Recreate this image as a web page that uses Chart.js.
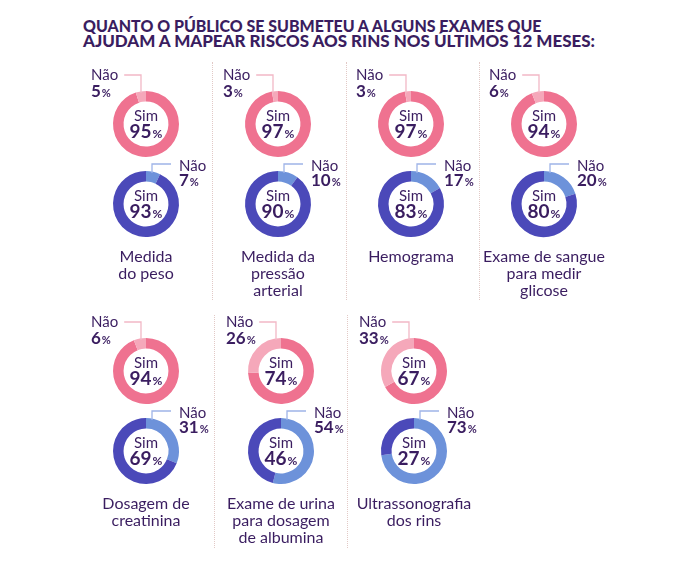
<!DOCTYPE html>
<html>
<head>
<meta charset="utf-8">
<script src="https://cdn.jsdelivr.net/npm/chart.js@4"></script>
<style>
  body { margin: 0; background: #fff; }
  #page { position: relative; width: 680px; height: 567px; overflow: hidden; background: #fff; }
  #title { position: absolute; left: 83px; top: 19px; color: #3a1d60;
           font: 900 16px Lato, sans-serif; line-height: 14.5px; white-space: nowrap; }
  #title span { display: block; transform-origin: 0 0; }
  .sep { position: absolute; width: 0; border-left: 1px dotted #e2c9c6; }
  .cell { position: absolute; width: 180px; height: 220px; }
</style>
</head>
<body>
<div id="page">
  <div id="title">
    <span>QUANTO O PÚBLICO SE SUBMETEU A ALGUNS EXAMES QUE</span>
    <span>AJUDAM A MAPEAR RISCOS AOS RINS NOS ÚLTIMOS 12 MESES:</span>
  </div>
</div>
<script>
// exames (categorias)
const exames = [
  'Medida\ndo peso',
  'Medida da\npressão\narterial',
  'Hemograma',
  'Exame de sangue\npara medir\nglicose',
  'Dosagem de\ncreatinina',
  'Exame de urina\npara dosagem\nde albumina',
  'Ultrassonografia\ndos rins'
];
// anel rosa (superior)
const simRosa = [95, 97, 97, 94, 94, 74, 67];
const naoRosa = [5, 3, 3, 6, 6, 26, 33];
// anel azul (inferior)
const simAzul = [93, 90, 83, 80, 69, 46, 27];
const naoAzul = [7, 10, 17, 20, 31, 54, 73];

const TXT = '#3a1d60';
const ROSA = '#ef7290', ROSA_CLARO = '#f5a8ba', ROSA_LINHA = '#f2b8c6';
const AZUL = '#4b49b9', AZUL_CLARO = '#6d92da', AZUL_LINHA = '#9fb4e8';

// grid of the cells
const colsRow1 = [146, 278, 411, 544];
const colsRow2 = [146, 281, 414];
const rowY = [124, 371];
const ringGap = 80;

const page = document.getElementById('page');

// fit title lines
document.querySelectorAll('#title span').forEach((s, i) => {
  const target = [482, 512][i];
  s.style.transform = 'scaleX(' + (target / s.getBoundingClientRect().width) + ')';
});

// dotted separators
[[212, 62, 238], [346, 62, 238], [479, 62, 238], [214, 315, 233], [347, 315, 233]].forEach(([x, y, h]) => {
  const d = document.createElement('div');
  d.className = 'sep';
  d.style.left = x + 'px'; d.style.top = y + 'px'; d.style.height = h + 'px';
  page.appendChild(d);
});

function pct(ctx, num, x, y, big, small, align) {
  ctx.font = '700 ' + big + 'px Lato';
  const w1 = ctx.measureText(num).width;
  ctx.font = '700 ' + small + 'px Lato';
  const w2 = ctx.measureText('%').width;
  const x0 = align === 'center' ? x - (w1 + w2 + 1) / 2 : x;
  ctx.textAlign = 'left';
  ctx.font = '700 ' + big + 'px Lato';
  ctx.fillText(num, x0, y);
  ctx.font = '700 ' + small + 'px Lato';
  ctx.fillText('%', x0 + w1 + 1, y);
}

const labels = {
  id: 'labels',
  afterDraw(chart) {
    const o = chart.options.plugins.labels;
    const arc = chart.getDatasetMeta(0).data[0];
    const x = arc.x, y = arc.y, r = arc.outerRadius;
    const ctx = chart.ctx;
    ctx.save();
    ctx.fillStyle = TXT;
    ctx.textBaseline = 'alphabetic';
    // center
    ctx.textAlign = 'center';
    ctx.font = '400 15px Lato';
    ctx.fillText('Sim', x, y - 3);
    pct(ctx, String(o.sim), x, y + 14, 19, 12, 'center');
    // Não label + leader
    ctx.strokeStyle = o.line;
    ctx.lineWidth = 1.3;
    ctx.beginPath();
    if (o.side === 'left') {
      const lx = x - 55;
      ctx.textAlign = 'left';
      ctx.font = '400 15px Lato';
      ctx.fillText('Não', lx, y - 44);
      const nw = ctx.measureText('Não').width;
      pct(ctx, String(o.nao), lx, y - 27, 17, 11, 'left');
      ctx.moveTo(x - 5, y - r + 2);
      ctx.lineTo(x - 5, y - 49);
      ctx.lineTo(lx + nw + 6, y - 49);
    } else {
      const lx = x + 33;
      ctx.textAlign = 'left';
      ctx.font = '400 15px Lato';
      ctx.fillText('Não', lx, y - 33);
      pct(ctx, String(o.nao), lx, y - 18, 17, 11, 'left');
      ctx.moveTo(x + 6, y - r + 2);
      ctx.lineTo(x + 6, y - 40);
      ctx.lineTo(lx - 8, y - 40);
    }
    ctx.stroke();
    // category below the lower ring
    if (o.cat) {
      ctx.textAlign = 'center';
      ctx.font = '400 16px Lato';
      o.cat.split('\n').forEach((t, i) => ctx.fillText(t, x, y + 58 + i * 17));
    }
    ctx.restore();
  }
};

function donut(cx, cy, data, colors, opts) {
  const cell = document.createElement('div');
  cell.className = 'cell';
  cell.style.left = (cx - 90) + 'px';
  cell.style.top = (cy - 110) + 'px';
  const cv = document.createElement('canvas');
  cv.width = 180; cv.height = 220;
  cell.appendChild(cv);
  page.appendChild(cell);
  new Chart(cv.getContext('2d'), {
    type: 'doughnut',
    data: { datasets: [{ data: data, backgroundColor: colors, borderWidth: 0, hoverOffset: 0 }] },
    options: {
      responsive: false,
      animation: false,
      events: [],
      radius: 33,
      cutout: '68%',
      layout: { padding: { left: 57, right: 57, top: 77, bottom: 77 } },
      plugins: { legend: { display: false }, tooltip: { enabled: false }, labels: opts }
    },
    plugins: [labels]
  });
}

exames.forEach((cat, i) => {
  const cx = i < 4 ? colsRow1[i] : colsRow2[i - 4];
  const cy = rowY[i < 4 ? 0 : 1];
  donut(cx, cy, [simRosa[i], naoRosa[i]], [ROSA, ROSA_CLARO],
    { sim: simRosa[i], nao: naoRosa[i], side: 'left', line: ROSA_LINHA });
  donut(cx, cy + ringGap, [naoAzul[i], simAzul[i]], [AZUL_CLARO, AZUL],
    { sim: simAzul[i], nao: naoAzul[i], side: 'right', line: AZUL_LINHA, cat: cat });
});
</script>
</body>
</html>
